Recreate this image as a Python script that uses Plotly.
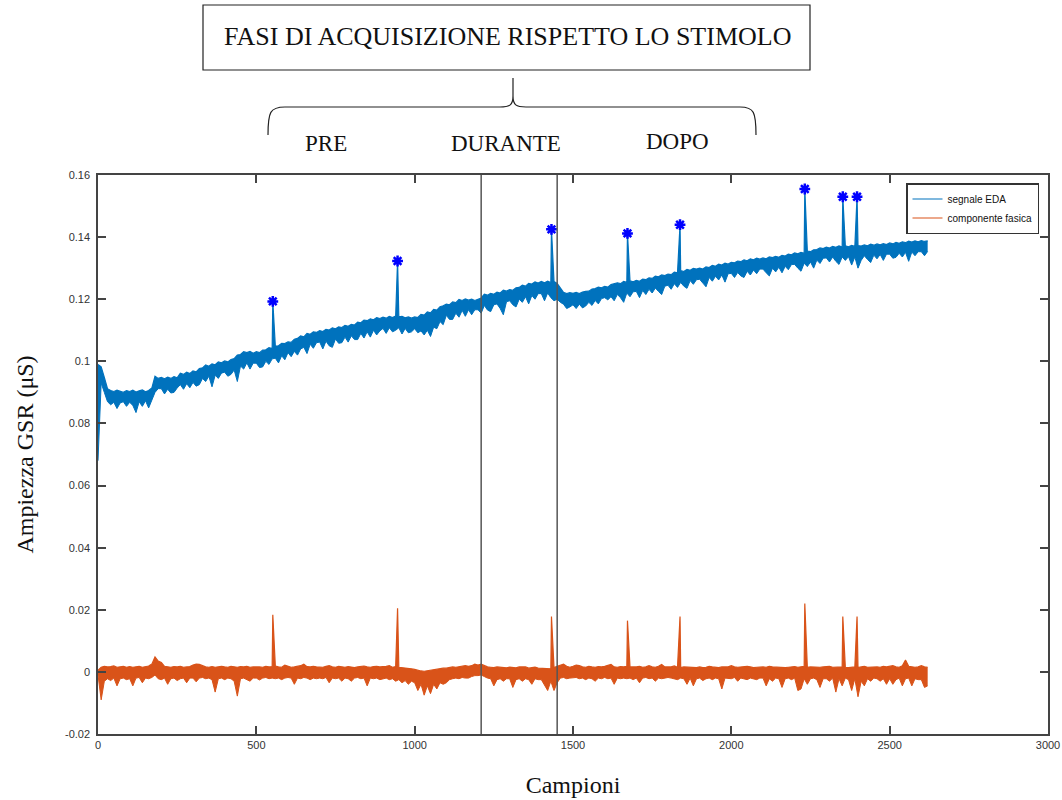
import plotly.graph_objects as go

# ---------------- data ----------------
# signal read as upper / lower edge of the noise band, every 10 samples
step_x = list(range(0, 2630, 10))

eda_upper = [
    0.0990, 0.0982, 0.0948, 0.0912, 0.0906, 0.0903, 0.0907, 0.0904, 0.0900, 0.0906,
    0.0903, 0.0907, 0.0901, 0.0905, 0.0908, 0.0902, 0.0906, 0.0914, 0.0952, 0.0945,
    0.0948, 0.0944, 0.0949, 0.0945, 0.0951, 0.0947, 0.0962, 0.0958, 0.0965, 0.0961,
    0.0969, 0.0966, 0.0977, 0.0979, 0.0988, 0.0984, 0.0992, 0.0989, 0.0998, 0.0995,
    0.1001, 0.0998, 0.1006, 0.1009, 0.1020, 0.1022, 0.1031, 0.1028, 0.1032, 0.1026,
    0.1031, 0.1028, 0.1036, 0.1037, 0.1044, 0.1041, 0.1049, 0.1050, 0.1058, 0.1057,
    0.1063, 0.1061, 0.1071, 0.1074, 0.1082, 0.1079, 0.1090, 0.1087, 0.1095, 0.1093,
    0.1099, 0.1096, 0.1103, 0.1101, 0.1108, 0.1105, 0.1111, 0.1109, 0.1116, 0.1113,
    0.1119, 0.1117, 0.1126, 0.1124, 0.1133, 0.1131, 0.1137, 0.1134, 0.1141, 0.1138,
    0.1142, 0.1139, 0.1145, 0.1141, 0.1146, 0.1143, 0.1145, 0.1140, 0.1143, 0.1139,
    0.1143, 0.1141, 0.1151, 0.1149, 0.1159, 0.1156, 0.1167, 0.1165, 0.1176, 0.1179,
    0.1184, 0.1182, 0.1191, 0.1189, 0.1199, 0.1196, 0.1201, 0.1197, 0.1200, 0.1196,
    0.1201, 0.1204, 0.1216, 0.1213, 0.1219, 0.1216, 0.1223, 0.1220, 0.1229, 0.1226,
    0.1231, 0.1229, 0.1237, 0.1238, 0.1245, 0.1242, 0.1251, 0.1249, 0.1256, 0.1252,
    0.1257, 0.1253, 0.1258, 0.1254, 0.1257, 0.1251, 0.1236, 0.1222, 0.1218, 0.1221,
    0.1219, 0.1222, 0.1218, 0.1223, 0.1225, 0.1226, 0.1233, 0.1234, 0.1239, 0.1237,
    0.1241, 0.1239, 0.1247, 0.1249, 0.1253, 0.1250, 0.1257, 0.1254, 0.1259, 0.1256,
    0.1261, 0.1258, 0.1265, 0.1263, 0.1269, 0.1267, 0.1274, 0.1272, 0.1278, 0.1276,
    0.1281, 0.1279, 0.1287, 0.1285, 0.1292, 0.1289, 0.1296, 0.1293, 0.1299, 0.1297,
    0.1300, 0.1297, 0.1304, 0.1302, 0.1309, 0.1306, 0.1313, 0.1310, 0.1316, 0.1313,
    0.1319, 0.1317, 0.1323, 0.1321, 0.1327, 0.1324, 0.1330, 0.1327, 0.1332, 0.1329,
    0.1333, 0.1330, 0.1336, 0.1334, 0.1338, 0.1335, 0.1341, 0.1339, 0.1345, 0.1343,
    0.1349, 0.1346, 0.1351, 0.1348, 0.1355, 0.1353, 0.1359, 0.1360, 0.1365, 0.1363,
    0.1368, 0.1365, 0.1370, 0.1367, 0.1372, 0.1368, 0.1372, 0.1369, 0.1373, 0.1370,
    0.1373, 0.1371, 0.1375, 0.1372, 0.1377, 0.1374, 0.1378, 0.1375, 0.1379, 0.1376,
    0.1381, 0.1378, 0.1383, 0.1380, 0.1385, 0.1382, 0.1387, 0.1384, 0.1388, 0.1385,
    0.1389, 0.1386, 0.1388,
]

eda_lower = [
    0.0680, 0.0930, 0.0900, 0.0870, 0.0860, 0.0868, 0.0848, 0.0866, 0.0870, 0.0855,
    0.0868, 0.0858, 0.0835, 0.0870, 0.0855, 0.0873, 0.0850, 0.0874, 0.0900, 0.0912,
    0.0912, 0.0895, 0.0910, 0.0898, 0.0900, 0.0914, 0.0925, 0.0910, 0.0928, 0.0915,
    0.0932, 0.0920, 0.0925, 0.0945, 0.0935, 0.0952, 0.0918, 0.0955, 0.0945, 0.0962,
    0.0965, 0.0952, 0.0958, 0.0972, 0.0935, 0.0985, 0.0975, 0.0995, 0.0975, 0.0994,
    0.0994, 0.0980, 0.0982, 0.1000, 0.0990, 0.1008, 0.1010, 0.0995, 0.1018, 0.1005,
    0.1028, 0.1015, 0.1032, 0.1020, 0.1040, 0.1045, 0.1025, 0.1055, 0.1042, 0.1060,
    0.1062, 0.1040, 0.1065, 0.1050, 0.1045, 0.1072, 0.1058, 0.1060, 0.1078, 0.1062,
    0.1082, 0.1070, 0.1070, 0.1090, 0.1075, 0.1095, 0.1078, 0.1100, 0.1085, 0.1098,
    0.1106, 0.1090, 0.1108, 0.1095, 0.1100, 0.1108, 0.1088, 0.1106, 0.1092, 0.1095,
    0.1105, 0.1092, 0.1098, 0.1085, 0.1100, 0.1080, 0.1110, 0.1105, 0.1128, 0.1118,
    0.1148, 0.1135, 0.1135, 0.1155, 0.1142, 0.1164, 0.1145, 0.1166, 0.1150, 0.1166,
    0.1166, 0.1155, 0.1180, 0.1165, 0.1160, 0.1182, 0.1185, 0.1170, 0.1150, 0.1192,
    0.1195, 0.1182, 0.1175, 0.1200, 0.1190, 0.1208, 0.1185, 0.1212, 0.1200, 0.1218,
    0.1218, 0.1195, 0.1220, 0.1205, 0.1195, 0.1200, 0.1190, 0.1184, 0.1170, 0.1175,
    0.1182, 0.1170, 0.1184, 0.1172, 0.1178, 0.1190, 0.1180, 0.1196, 0.1185, 0.1202,
    0.1205, 0.1198, 0.1208, 0.1195, 0.1215, 0.1205, 0.1190, 0.1220, 0.1208, 0.1224,
    0.1225, 0.1205, 0.1228, 0.1215, 0.1232, 0.1220, 0.1236, 0.1225, 0.1215, 0.1242,
    0.1245, 0.1232, 0.1250, 0.1238, 0.1254, 0.1242, 0.1235, 0.1260, 0.1248, 0.1263,
    0.1264, 0.1252, 0.1240, 0.1270, 0.1258, 0.1274, 0.1262, 0.1278, 0.1255, 0.1282,
    0.1283, 0.1270, 0.1286, 0.1275, 0.1270, 0.1290, 0.1278, 0.1294, 0.1282, 0.1297,
    0.1297, 0.1285, 0.1275, 0.1300, 0.1288, 0.1303, 0.1285, 0.1306, 0.1295, 0.1312,
    0.1312, 0.1300, 0.1290, 0.1316, 0.1305, 0.1320, 0.1300, 0.1326, 0.1315, 0.1332,
    0.1333, 0.1320, 0.1336, 0.1322, 0.1312, 0.1336, 0.1325, 0.1337, 0.1310, 0.1336,
    0.1300, 0.1325, 0.1340, 0.1328, 0.1318, 0.1342, 0.1330, 0.1344, 0.1325, 0.1345,
    0.1345, 0.1332, 0.1335, 0.1348, 0.1336, 0.1351, 0.1322, 0.1352, 0.1340, 0.1353,
    0.1353, 0.1340, 0.1354,
]

fasica_upper = [
    0.0005, 0.0015, 0.0018, 0.0016, 0.0017, 0.0019, 0.0015, 0.0016, 0.0018, 0.0015,
    0.0017, 0.0015, 0.0016, 0.0018, 0.0015, 0.0016, 0.0019, 0.0025, 0.0048, 0.0035,
    0.0030, 0.0018, 0.0016, 0.0015, 0.0017, 0.0016, 0.0018, 0.0015, 0.0016, 0.0017,
    0.0022, 0.0025, 0.0024, 0.0020, 0.0016, 0.0015, 0.0017, 0.0015, 0.0016, 0.0018,
    0.0016, 0.0015, 0.0018, 0.0016, 0.0015, 0.0017, 0.0016, 0.0018, 0.0015, 0.0016,
    0.0017, 0.0016, 0.0015, 0.0018, 0.0016, 0.0017, 0.0019, 0.0016, 0.0015, 0.0022,
    0.0018, 0.0015, 0.0016, 0.0018, 0.0020, 0.0025, 0.0017, 0.0016, 0.0018, 0.0016,
    0.0016, 0.0015, 0.0018, 0.0020, 0.0016, 0.0015, 0.0018, 0.0016, 0.0015, 0.0017,
    0.0015, 0.0014, 0.0016, 0.0018, 0.0019, 0.0016, 0.0015, 0.0017, 0.0018, 0.0016,
    0.0016, 0.0018, 0.0020, 0.0015, 0.0017, 0.0015, 0.0014, 0.0012, 0.0013, 0.0010,
    0.0008, 0.0005, 0.0003, 0.0002, 0.0004, 0.0006, 0.0008, 0.0010, 0.0012, 0.0012,
    0.0012, 0.0014, 0.0016, 0.0015, 0.0016, 0.0018, 0.0020, 0.0018, 0.0020, 0.0025,
    0.0022, 0.0025, 0.0020, 0.0016, 0.0015, 0.0014, 0.0016, 0.0015, 0.0014, 0.0013,
    0.0015, 0.0014, 0.0013, 0.0016, 0.0015, 0.0016, 0.0012, 0.0014, 0.0015, 0.0012,
    0.0012, 0.0010, 0.0012, 0.0010, 0.0014, 0.0018, 0.0022, 0.0025, 0.0018, 0.0015,
    0.0018, 0.0022, 0.0020, 0.0016, 0.0015, 0.0018, 0.0016, 0.0015, 0.0017, 0.0016,
    0.0018, 0.0020, 0.0024, 0.0016, 0.0015, 0.0017, 0.0016, 0.0018, 0.0016, 0.0015,
    0.0016, 0.0018, 0.0015, 0.0016, 0.0020, 0.0016, 0.0015, 0.0018, 0.0024, 0.0016,
    0.0015, 0.0016, 0.0019, 0.0015, 0.0014, 0.0016, 0.0015, 0.0016, 0.0015, 0.0014,
    0.0016, 0.0014, 0.0015, 0.0018, 0.0016, 0.0015, 0.0014, 0.0016, 0.0015, 0.0016,
    0.0020, 0.0016, 0.0015, 0.0016, 0.0015, 0.0018, 0.0016, 0.0014, 0.0015, 0.0016,
    0.0016, 0.0015, 0.0018, 0.0016, 0.0015, 0.0016, 0.0015, 0.0014, 0.0015, 0.0016,
    0.0017, 0.0015, 0.0016, 0.0018, 0.0015, 0.0016, 0.0015, 0.0014, 0.0015, 0.0016,
    0.0016, 0.0018, 0.0015, 0.0016, 0.0015, 0.0016, 0.0015, 0.0014, 0.0015, 0.0016,
    0.0014, 0.0016, 0.0018, 0.0015, 0.0016, 0.0015, 0.0016, 0.0015, 0.0018, 0.0016,
    0.0018, 0.0020, 0.0016, 0.0015, 0.0020, 0.0038, 0.0018, 0.0016, 0.0015, 0.0016,
    0.0020, 0.0016, 0.0015,
]

fasica_lower = [
    -0.0010, -0.0090, -0.0030, -0.0022, -0.0028, -0.0020, -0.0045, -0.0022, -0.0020, -0.0025,
    -0.0022, -0.0045, -0.0020, -0.0018, -0.0035, -0.0020, -0.0022, -0.0018, -0.0010, -0.0022,
    -0.0025, -0.0020, -0.0040, -0.0022, -0.0020, -0.0028, -0.0022, -0.0020, -0.0035, -0.0020,
    -0.0020, -0.0032, -0.0020, -0.0018, -0.0022, -0.0020, -0.0025, -0.0065, -0.0022, -0.0020,
    -0.0025, -0.0020, -0.0022, -0.0030, -0.0078, -0.0022, -0.0020, -0.0025, -0.0030, -0.0020,
    -0.0020, -0.0026, -0.0020, -0.0018, -0.0022, -0.0020, -0.0022, -0.0020, -0.0025, -0.0020,
    -0.0018, -0.0020, -0.0040, -0.0020, -0.0022, -0.0018, -0.0020, -0.0025, -0.0020, -0.0022,
    -0.0020, -0.0022, -0.0018, -0.0035, -0.0020, -0.0022, -0.0020, -0.0030, -0.0020, -0.0022,
    -0.0030, -0.0020, -0.0018, -0.0022, -0.0020, -0.0045, -0.0020, -0.0022, -0.0020, -0.0025,
    -0.0022, -0.0020, -0.0025, -0.0022, -0.0030, -0.0025, -0.0035, -0.0028, -0.0040, -0.0030,
    -0.0035, -0.0060, -0.0040, -0.0075, -0.0045, -0.0070, -0.0040, -0.0055, -0.0035, -0.0040,
    -0.0035, -0.0025, -0.0022, -0.0020, -0.0022, -0.0018, -0.0020, -0.0020, -0.0015, -0.0012,
    -0.0012, -0.0010, -0.0015, -0.0020, -0.0022, -0.0045, -0.0025, -0.0022, -0.0030, -0.0022,
    -0.0022, -0.0050, -0.0025, -0.0022, -0.0030, -0.0022, -0.0025, -0.0040, -0.0022, -0.0025,
    -0.0025, -0.0045, -0.0060, -0.0030, -0.0060, -0.0035, -0.0020, -0.0018, -0.0022, -0.0020,
    -0.0020, -0.0018, -0.0022, -0.0020, -0.0025, -0.0020, -0.0022, -0.0030, -0.0020, -0.0022,
    -0.0018, -0.0022, -0.0020, -0.0040, -0.0020, -0.0022, -0.0020, -0.0022, -0.0020, -0.0025,
    -0.0020, -0.0035, -0.0020, -0.0018, -0.0022, -0.0020, -0.0030, -0.0020, -0.0022, -0.0020,
    -0.0018, -0.0020, -0.0022, -0.0025, -0.0020, -0.0022, -0.0040, -0.0020, -0.0045, -0.0022,
    -0.0020, -0.0028, -0.0022, -0.0020, -0.0025, -0.0020, -0.0022, -0.0055, -0.0020, -0.0022,
    -0.0022, -0.0018, -0.0030, -0.0020, -0.0022, -0.0025, -0.0020, -0.0022, -0.0025, -0.0020,
    -0.0020, -0.0045, -0.0022, -0.0030, -0.0020, -0.0022, -0.0050, -0.0022, -0.0020, -0.0025,
    -0.0020, -0.0060, -0.0055, -0.0022, -0.0040, -0.0022, -0.0020, -0.0025, -0.0050, -0.0022,
    -0.0022, -0.0030, -0.0020, -0.0065, -0.0022, -0.0045, -0.0020, -0.0025, -0.0060, -0.0022,
    -0.0080, -0.0030, -0.0045, -0.0022, -0.0030, -0.0020, -0.0022, -0.0030, -0.0022, -0.0040,
    -0.0022, -0.0040, -0.0025, -0.0020, -0.0045, -0.0022, -0.0020, -0.0045, -0.0022, -0.0025,
    -0.0025, -0.0050, -0.0045,
]

# detected peaks (single-sample spikes)
peak_x = [552, 946, 1432, 1672, 1838, 2232, 2352, 2397]
peak_eda = [0.1193, 0.1323, 0.1425, 0.1412, 0.1440, 0.1555, 0.1530, 0.1530]
peak_fasica = [0.0184, 0.0205, 0.0178, 0.0165, 0.0178, 0.0220, 0.0178, 0.0178]

# phase boundaries (PRE | DURANTE | DOPO)
phase_bounds = [1210, 1450]

x_ticks = [0, 500, 1000, 1500, 2000, 2500, 3000]
x_tick_text = ["0", "500", "1000", "1500", "2000", "2500", "3000"]
y_ticks = [-0.02, 0, 0.02, 0.04, 0.06, 0.08, 0.1, 0.12, 0.14, 0.16]
y_tick_text = ["-0.02", "0", "0.02", "0.04", "0.06", "0.08", "0.1", "0.12", "0.14", "0.16"]

phase_labels = ["PRE", "DURANTE", "DOPO"]
title_text = "FASI DI ACQUISIZIONE RISPETTO LO STIMOLO"

# ---------------- build series ----------------
def merge(xs, ys, px_, py_):
    pts = dict(zip(xs, ys))
    pts.update(dict(zip(px_, py_)))
    keys = sorted(pts)
    return keys, [pts[k] for k in keys]

eux, euy = merge(step_x, eda_upper, peak_x, peak_eda)
fux, fuy = merge(step_x, fasica_upper, peak_x, peak_fasica)

BLUE = "#0072BD"
ORANGE = "#D95319"

fig = go.Figure()
# blue band
fig.add_trace(go.Scatter(x=eux, y=euy, mode="lines", name="segnale EDA",
                         line=dict(color=BLUE, width=1.2)))
fig.add_trace(go.Scatter(x=step_x, y=eda_lower, mode="lines", showlegend=False,
                         fill="tonexty", fillcolor=BLUE,
                         line=dict(color=BLUE, width=1.0)))
# orange band
fig.add_trace(go.Scatter(x=fux, y=fuy, mode="lines", name="componente fasica",
                         line=dict(color=ORANGE, width=1.2)))
fig.add_trace(go.Scatter(x=step_x, y=fasica_lower, mode="lines", showlegend=False,
                         fill="tonexty", fillcolor=ORANGE,
                         line=dict(color=ORANGE, width=1.0)))
# peak markers
fig.add_trace(go.Scatter(x=peak_x, y=peak_eda, mode="markers", showlegend=False,
                         marker=dict(symbol="asterisk", size=9, color="#0000FF",
                                     line=dict(color="#0000FF", width=2.5))))

# ---------------- layout ----------------
L, T, R, B = 98, 175, 1048, 734
W, H = R - L, B - T

def px(v):
    return (v - L) / W

def py(v):
    return (B - v) / H

shapes = []
for xb in phase_bounds:
    shapes.append(dict(type="line", xref="x", yref="paper", x0=xb, x1=xb, y0=0, y1=1,
                       line=dict(color="#555555", width=1.5)))

# title box
shapes.append(dict(type="rect", xref="paper", yref="paper",
                   x0=px(203), x1=px(810), y0=py(70), y1=py(5),
                   line=dict(color="#222222", width=1.2), fillcolor="rgba(0,0,0,0)"))

# curly brace
pts = lambda a, b: f"{px(a):.5f},{py(b):.5f}"
brace = (
    f"M {pts(268,135)} C {pts(268,112)} {pts(270,107)} {pts(285,107)} "
    f"L {pts(500,107)} C {pts(510,107)} {pts(513,105)} {pts(513,96)} "
    f"L {pts(513,78)} M {pts(513,96)} C {pts(513,105)} {pts(516,107)} {pts(526,107)} "
    f"L {pts(740,107)} C {pts(754,107)} {pts(756,112)} {pts(756,135)}"
)
shapes.append(dict(type="path", xref="paper", yref="paper", path=brace,
                   line=dict(color="#222222", width=1.2)))

serif = "Liberation Serif, Times New Roman, serif"
annotations = [
    dict(text=title_text, xref="paper", yref="paper", x=px(507), y=py(36),
         showarrow=False, font=dict(family=serif, size=26, color="#111111"),
         xanchor="center", yanchor="middle"),
]
for lab, cx, cy in zip(phase_labels, [326, 506, 677], [143, 143, 142]):
    annotations.append(dict(text=lab, xref="paper", yref="paper", x=px(cx), y=py(cy),
                            showarrow=False, font=dict(family=serif, size=23, color="#111111"),
                            xanchor="center", yanchor="middle"))

axis_common = dict(showline=True, linecolor="#444444", linewidth=1.5, mirror="ticks",
                   ticks="inside", ticklen=8, tickwidth=1.5, tickcolor="#444444",
                   showgrid=False, zeroline=False, automargin=False,
                   tickfont=dict(family="Liberation Sans, Arial, sans-serif", size=11, color="#333333"))

fig.update_layout(
    width=1062, height=800, autosize=False,
    margin=dict(l=L, r=1062 - R, t=T, b=800 - B),
    paper_bgcolor="white", plot_bgcolor="white",
    xaxis=dict(range=[0, 3000], tickvals=x_ticks, ticktext=x_tick_text,
               title=dict(text="Campioni", font=dict(family=serif, size=24, color="#111111"), standoff=26),
               **axis_common),
    yaxis=dict(range=[-0.02, 0.16], tickvals=y_ticks, ticktext=y_tick_text,
               ticklabelstandoff=4,
               title=dict(text="Ampiezza GSR (μS)", font=dict(family=serif, size=24, color="#111111"), standoff=25),
               **axis_common),
    legend=dict(x=px(906), y=py(183), xanchor="left", yanchor="top",
                bgcolor="white", bordercolor="#333333", borderwidth=1.5,
                font=dict(family="Liberation Sans Narrow, Liberation Sans, Arial, sans-serif", size=10, color="#111111"),
                itemwidth=30, tracegroupgap=0, traceorder="normal"),
    shapes=shapes,
    annotations=annotations,
    showlegend=True,
)

fig.write_html("out.html", config={"displayModeBar": False},
               post_script="document.body.style.margin='0';")
